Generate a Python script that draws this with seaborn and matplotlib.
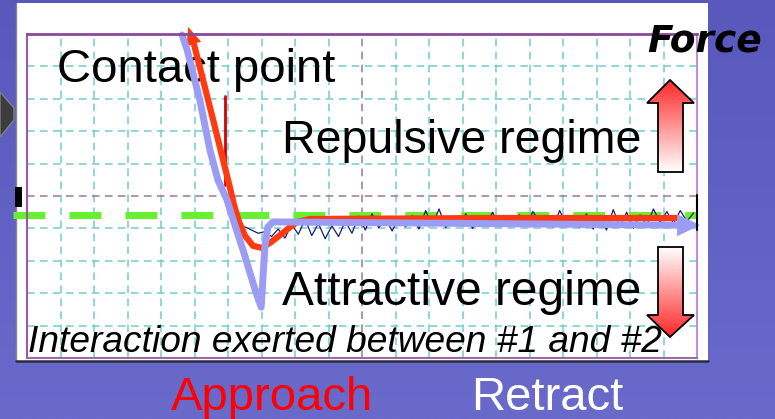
import numpy as np
import matplotlib
matplotlib.use("Agg")
import matplotlib.pyplot as plt
import seaborn as sns
from matplotlib.transforms import Affine2D
from matplotlib.patches import Polygon, Rectangle

# ---------------- data (grid units: x 0..20, y -5..5) ----------------
approach_x = [19.40, 14.12, 8.45, 8.06, 7.85, 7.64, 7.25, 7.01, 6.75, 6.51, 6.33, 6.18, 6.06, 5.52, 4.99, 4.81]
approach_y = [-0.68, -0.68, -0.71, -0.80, -0.96, -1.14, -1.45, -1.60, -1.54, -1.23, -0.80, -0.28, 0.25, 2.50, 4.66, 5.22]
retract_x = [4.63, 4.78, 5.16, 5.46, 5.70, 5.97, 6.06, 6.45, 6.81, 6.99, 7.04, 7.10, 7.19, 7.34, 11.13, 19.40, 20.09]
retract_y = [4.97, 4.51, 2.96, 1.42, 0.49, -0.12, -0.43, -1.67, -2.90, -3.43, -2.59, -1.57, -0.96, -0.80, -0.83, -0.90, -0.90]
baseline_x = [-0.42, 20.0]
baseline_y = [-0.59, -0.59]
contact_x = [5.91, 5.91]
contact_y = [0.34, 3.09]
noise_x = [6.5, 6.7, 6.9, 7.1, 7.3, 7.5, 7.7, 7.9, 8.1, 8.3, 8.5, 8.7, 8.9, 9.1, 9.3, 9.5, 9.7, 9.9,
           10.1, 10.3, 10.5, 10.7, 10.9, 11.1, 11.3, 11.5, 11.7, 11.9, 12.1, 12.3, 12.5, 12.7, 12.9,
           13.1, 13.3, 13.5, 13.7, 13.9, 14.1, 14.3, 14.5, 14.7, 14.9, 15.1, 15.3, 15.5, 15.7, 15.9,
           16.1, 16.3, 16.5, 16.7, 16.9, 17.1, 17.3, 17.5, 17.7, 17.9, 18.1, 18.3, 18.5, 18.7, 18.9,
           19.1, 19.3, 19.5, 19.7, 19.9]
noise_y = [-0.95, -1.05, -1.15, -1.10, -1.25, -1.02, -1.30, -0.88, -1.18, -0.72, -1.22, -0.85, -1.32,
           -0.92, -1.25, -0.78, -1.15, -0.62, -1.05, -0.55, -0.98, -0.70, -1.08, -0.66, -0.95, -0.60,
           -1.02, -0.45, -0.92, -0.40, -0.98, -0.65, -0.88, -0.55, -1.00, -0.68, -0.90, -0.50, -0.95,
           -0.62, -0.85, -0.58, -0.92, -0.48, -0.80, -0.70, -0.96, -0.45, -0.88, -0.62, -0.98, -0.55,
           -1.02, -0.60, -1.05, -0.42, -0.95, -0.50, -1.00, -0.58, -0.90, -0.40, -0.82, -0.48, -0.85,
           -0.45, -0.78, -0.52]

labels_in_plot = ["Contact point", "Repulsive regime", "Attractive regime",
                  "Interaction exerted between #1 and #2"]
label_force = "Force"
label_approach = "Approach"
label_retract = "Retract"

W, H = 775, 419
RED = "#ff3a10"
BLUE = "#9c9cf4"
GREEN = "#66f030"

sns.set_theme(style="white")
plt.rcParams["font.family"] = ["Liberation Sans", "DejaVu Sans"]

fig = plt.figure(figsize=(W / 100, H / 100), dpi=100)
P = Affine2D().scale(1 / W, -1 / H).translate(0, 1) + fig.transFigure

# ---------------- background ----------------
bg = fig.add_axes([0, 0, 1, 1], zorder=-1)
bg.set_xlim(0, W); bg.set_ylim(H, 0); bg.axis("off")
top = np.array([0x58, 0x58, 0xbd]) / 255
bot = np.array([0x6a, 0x6a, 0xcb]) / 255
g = np.linspace(0, 1, 200)[:, None]
grad = (top * (1 - g) + bot * g).reshape(200, 1, 3)
bg.imshow(grad, extent=[0, W, H, 0], origin="upper", aspect="auto", zorder=0)
bg.add_patch(Rectangle((16, 3), 692, 358, facecolor="white", edgecolor="none", zorder=1))
bg.plot([16, 16], [3, 361], color="#888888", lw=1.0, zorder=2)
bg.plot([16, 708], [361, 361], color="#2a2a3a", lw=1.8, zorder=2)
bg.add_patch(Polygon([(0, 92), (14, 108), (14, 120), (0, 137)], closed=True,
                     facecolor="#3c3c3c", edgecolor="#808080", lw=1, zorder=2))
bg.add_patch(Rectangle((15, 187), 7, 20, facecolor="black", edgecolor="none", zorder=2))
bg.set_xlim(0, W); bg.set_ylim(H, 0)

# ---------------- main plot ----------------
ax = fig.add_axes([27 / W, 61 / H, 670 / W, 324 / H], zorder=1)
ax.set_facecolor("none")
ax.set_xlim(0, 20); ax.set_ylim(-5, 5)
ax.set_xticks([i for i in range(21) if i != 10])
ax.set_yticks([i for i in range(-5, 6) if i != 0])
ax.tick_params(length=0, labelbottom=False, labelleft=False)
ax.set_axisbelow(True)
ax.grid(True, color="#74cccc", lw=1.1, linestyle=(0, (5, 3.5)))
ax.axvline(10, color="#a07890", lw=1.1, linestyle=(0, (5, 3.5)), zorder=0.6)
ax.axhline(0, color="#a07890", lw=1.1, linestyle=(0, (5, 3.5)), zorder=0.6)
for side, col, lw in [("top", "#8a4a9a", 2.0), ("left", "#9a5aa8", 1.5),
                      ("right", "#c090d0", 1.5), ("bottom", "#9a6aa8", 1.5)]:
    ax.spines[side].set_color(col)
    ax.spines[side].set_linewidth(lw)

sns.lineplot(x=baseline_x, y=baseline_y, ax=ax, color=GREEN, lw=5,
             linestyle=(0, (4.6, 3.46)), clip_on=False, zorder=2.0)
sns.lineplot(x=noise_x, y=noise_y, ax=ax, sort=False, estimator=None,
             color="#1c1c70", lw=0.9, zorder=2.1)
sns.lineplot(x=contact_x, y=contact_y, ax=ax, sort=False, estimator=None,
             color="#d00000", lw=2.0, zorder=2.15)
sns.lineplot(x=approach_x[:-1], y=approach_y[:-1], ax=ax, sort=False, estimator=None,
             color=RED, lw=4.5, clip_on=False, zorder=2.2,
             solid_joinstyle="round", solid_capstyle="round")
ax.annotate("", xy=(approach_x[-1], approach_y[-1]), xytext=(approach_x[-2], approach_y[-2]),
            arrowprops=dict(arrowstyle="-|>,head_length=13,head_width=5.5", mutation_scale=1,
                            color=RED, lw=0, shrinkA=0, shrinkB=0),
            annotation_clip=False, zorder=2.2)
sns.lineplot(x=retract_x[:-1], y=retract_y[:-1], ax=ax, sort=False, estimator=None,
             color=BLUE, lw=5, clip_on=False, zorder=2.3,
             solid_joinstyle="round", solid_capstyle="round")
ax.annotate("", xy=(retract_x[-1], retract_y[-1]), xytext=(retract_x[-2], retract_y[-2]),
            arrowprops=dict(arrowstyle="-|>,head_length=16.5,head_width=8", mutation_scale=1,
                            color=BLUE, lw=0, shrinkA=0, shrinkB=0),
            annotation_clip=False, zorder=2.3)
ax.set_xlim(0, 20); ax.set_ylim(-5, 5)

txt_kw = dict(transform=P, va="baseline", ha="left", color="black", zorder=1.8, clip_on=False)
ax.text(57, 82, labels_in_plot[0], fontsize=34, **txt_kw)
ax.text(282, 153, labels_in_plot[1], fontsize=33.5, **txt_kw)
ax.text(282, 305, labels_in_plot[2], fontsize=34.5, **txt_kw)
ax.text(28, 352, labels_in_plot[3], fontsize=26.7, style="italic", **txt_kw)

# ---------------- overlay ----------------
ov = fig.add_axes([0, 0, 1, 1], zorder=2)
ov.patch.set_visible(False); ov.axis("off")


def grad_arrow(pts, c_top, c_bot, extent):
    poly = Polygon(pts, closed=True, facecolor="none", edgecolor="black", lw=1.3, zorder=5)
    ov.add_patch(poly)
    gg = np.linspace(0, 1, 120)[:, None]
    arr = (np.array(c_top) * (1 - gg) + np.array(c_bot) * gg).reshape(120, 1, 3)
    im = ov.imshow(arr, extent=extent, origin="upper", aspect="auto", zorder=4)
    im.set_clip_path(poly)


red_c = (1.0, 0.15, 0.15)
white_c = (1.0, 1.0, 1.0)
grad_arrow([(670, 80), (647, 103), (658, 103), (658, 172), (683, 172), (683, 103), (694, 103)],
           red_c, white_c, [647, 694, 172, 80])
grad_arrow([(658, 247), (683, 247), (683, 315), (694, 315), (670, 337), (647, 315), (658, 315)],
           white_c, red_c, [647, 694, 337, 247])
ov.plot([697, 697], [195, 230], color="black", lw=1.5, zorder=5)
ov.text(647, 51, label_force, fontsize=27, fontweight="bold", style="italic",
        family="DejaVu Sans", va="baseline", ha="left", color="black", zorder=6)
ov.text(171, 410, label_approach, fontsize=34, va="baseline", ha="left", color="#ff0000", zorder=6)
ov.text(471, 410, label_retract, fontsize=34, va="baseline", ha="left", color="white", zorder=6)
ov.set_xlim(0, W); ov.set_ylim(H, 0)

fig.savefig("out.png", dpi=100)
